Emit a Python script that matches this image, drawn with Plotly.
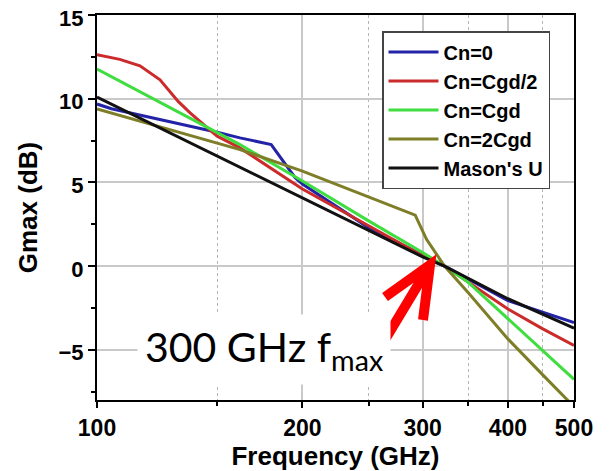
import plotly.graph_objects as go

# ---- data ----
blue_f = [100, 105, 150, 162, 180, 188, 195, 200, 250, 300, 323, 400, 500]
blue_g = [9.68, 9.4, 8.0, 7.66, 7.26, 6.17, 5.3, 4.9, 2.3, 0.65, 0.0, -2.06, -3.37]

red_f = [100, 108, 115.6, 123.7, 131.5, 136.9, 150, 162, 200, 250, 300, 323, 400, 450, 500]
red_g = [12.62, 12.35, 11.96, 11.13, 9.84, 9.15, 7.76, 7.06, 4.6, 2.4, 0.62, 0.0, -2.56, -3.75, -4.74]

green_f = [100, 150, 162, 200, 250, 300, 323, 350, 400, 450, 500]
green_g = [11.77, 8.0, 7.26, 5.08, 2.7, 0.81, 0.0, -0.97, -3.15, -5.04, -6.77]

olive_f = [100, 162, 200, 292.6, 304, 312, 323, 350, 400, 450, 486, 500]
olive_g = [9.39, 6.96, 5.67, 3.04, 1.6, 0.9, 0.0, -1.6, -4.35, -6.5, -7.9, -8.4]

black_f = [100, 200, 300, 323, 400, 500]
black_g = [10.1, 4.1, 0.55, 0.0, -1.95, -3.71]

names = ["Cn=0", "Cn=Cgd/2", "Cn=Cgd", "Cn=2Cgd", "Mason's U"]
colors = ["#2323a8", "#cc2b2b", "#3fdd3f", "#7e7e28", "#111111"]

x_tickvals = [100, 200, 300, 400, 500]
x_minor = [150, 250, 350, 450]
y_tickvals = [-5, 0, 5, 10, 15]
y_minor = [-7.5, -2.5, 2.5, 7.5, 12.5]

series = [(blue_f, blue_g), (red_f, red_g), (green_f, green_g), (olive_f, olive_g), (black_f, black_g)]

fig = go.Figure()
for (fx, gy), nm, col in zip(series, names, colors):
    fig.add_trace(go.Scatter(x=fx, y=gy, mode="lines", name=nm,
                             line=dict(color=col, width=3)))

# the page body has an 8px margin, so the figure is 8px smaller and shifted
OFF = 8
W, H = 609 - OFF, 471 - OFF
L, R, T, B = 97 - OFF, 35, 15 - OFF, 71

xtickfont = dict(family="Liberation Sans, Arial", size=23, color="black", weight="bold")
ytickfont = dict(family="Liberation Sans, Arial", size=22, color="black", weight="bold")
titlefont = dict(family="Liberation Sans, Arial", size=26, color="black", weight="bold")

fig.update_layout(
    width=W, height=H,
    margin=dict(l=L, r=R, t=T, b=B, autoexpand=False),
    paper_bgcolor="white", plot_bgcolor="white",
    xaxis=dict(type="log", range=[2, 2.69897], tickmode="array", tickvals=x_tickvals,
               ticktext=[str(v) for v in x_tickvals], ticks="outside", ticklen=6, tickwidth=2,
               tickcolor="black", showline=True, mirror=True, linewidth=2, linecolor="black",
               showgrid=True, gridcolor="#c9c9c9", gridwidth=1.5, tickfont=xtickfont,
               ticklabeloverflow="allow",
               title=dict(text="Frequency (GHz)", font=titlefont, standoff=7),
               minor=dict(tickmode="array", tickvals=x_minor, ticks="outside", ticklen=4,
                          tickwidth=2, tickcolor="black", showgrid=True,
                          gridcolor="#b5b5b5", gridwidth=1, griddash="dot"),
               zeroline=False),
    yaxis=dict(range=[-8, 15], tickmode="array", tickvals=y_tickvals, ticks="outside",
               ticklen=7, tickwidth=2, tickcolor="black", showline=True, mirror=True,
               linewidth=2, linecolor="black", showgrid=True, gridcolor="#c9c9c9",
               gridwidth=1.5, tickfont=ytickfont, zeroline=False, ticklabeloverflow="allow",
               ticklabelshift=3,
               title=dict(text="Gmax (dB)", font=titlefont, standoff=13),
               minor=dict(tickmode="array", tickvals=y_minor, ticks="outside", ticklen=4,
                          tickwidth=2, tickcolor="black", showgrid=False)),
    xaxis2=dict(type="log", range=[2, 2.69897], overlaying="x", side="top", anchor="y",
                tickmode="array", tickvals=x_tickvals, ticks="inside", ticklen=6, tickwidth=2,
                tickcolor="black", showticklabels=False, showgrid=False, showline=False,
                zeroline=False,
                minor=dict(tickmode="array", tickvals=x_minor, ticks="inside", ticklen=4,
                           tickwidth=2, tickcolor="black", showgrid=False)),
    yaxis2=dict(range=[-8, 15], overlaying="y", side="right", anchor="x",
                tickmode="array", tickvals=y_tickvals, ticks="inside", ticklen=7, tickwidth=2,
                tickcolor="black", showticklabels=False, showgrid=False, showline=False,
                zeroline=False,
                minor=dict(tickmode="array", tickvals=y_minor, ticks="inside", ticklen=4,
                           tickwidth=2, tickcolor="black", showgrid=False)),
    legend=dict(x=(382 - 97) / 477, y=(400 - 31) / 385,
                xanchor="left", yanchor="top", bgcolor="white",
                bordercolor="#444444", borderwidth=1.5,
                font=dict(family="Liberation Sans, Arial", size=20, color="black", weight="bold"),
                tracegroupgap=0, itemwidth=50),
    showlegend=True,
)

# paper coordinates from page pixel positions of the reference plot area (97..574, 15..400)
def px(xp):
    return (xp - 97) / 477
def py(yp):
    return (400 - yp) / 385

# text label with white box
fig.add_annotation(x=px(264), y=py(349), xref="paper", yref="paper",
                   text="300 GHz f<sub>max</sub>", showarrow=False,
                   xanchor="center", yanchor="middle", bgcolor="white", borderpad=7,
                   font=dict(family="Lato", size=41, color="black"))

# red arrow
tail = (383, 343)
tip = (430, 265)
b1 = (385, 297)
b2 = (423, 320)
path = (f"M{px(tail[0])},{py(tail[1])} L{px(tip[0])},{py(tip[1])} "
        f"M{px(b1[0])},{py(b1[1])} L{px(tip[0])},{py(tip[1])} L{px(b2[0])},{py(b2[1])}")
fig.add_shape(type="path", path=path, xref="paper", yref="paper",
              line=dict(color="#ff0000", width=10))

fig.write_html("out.html")
